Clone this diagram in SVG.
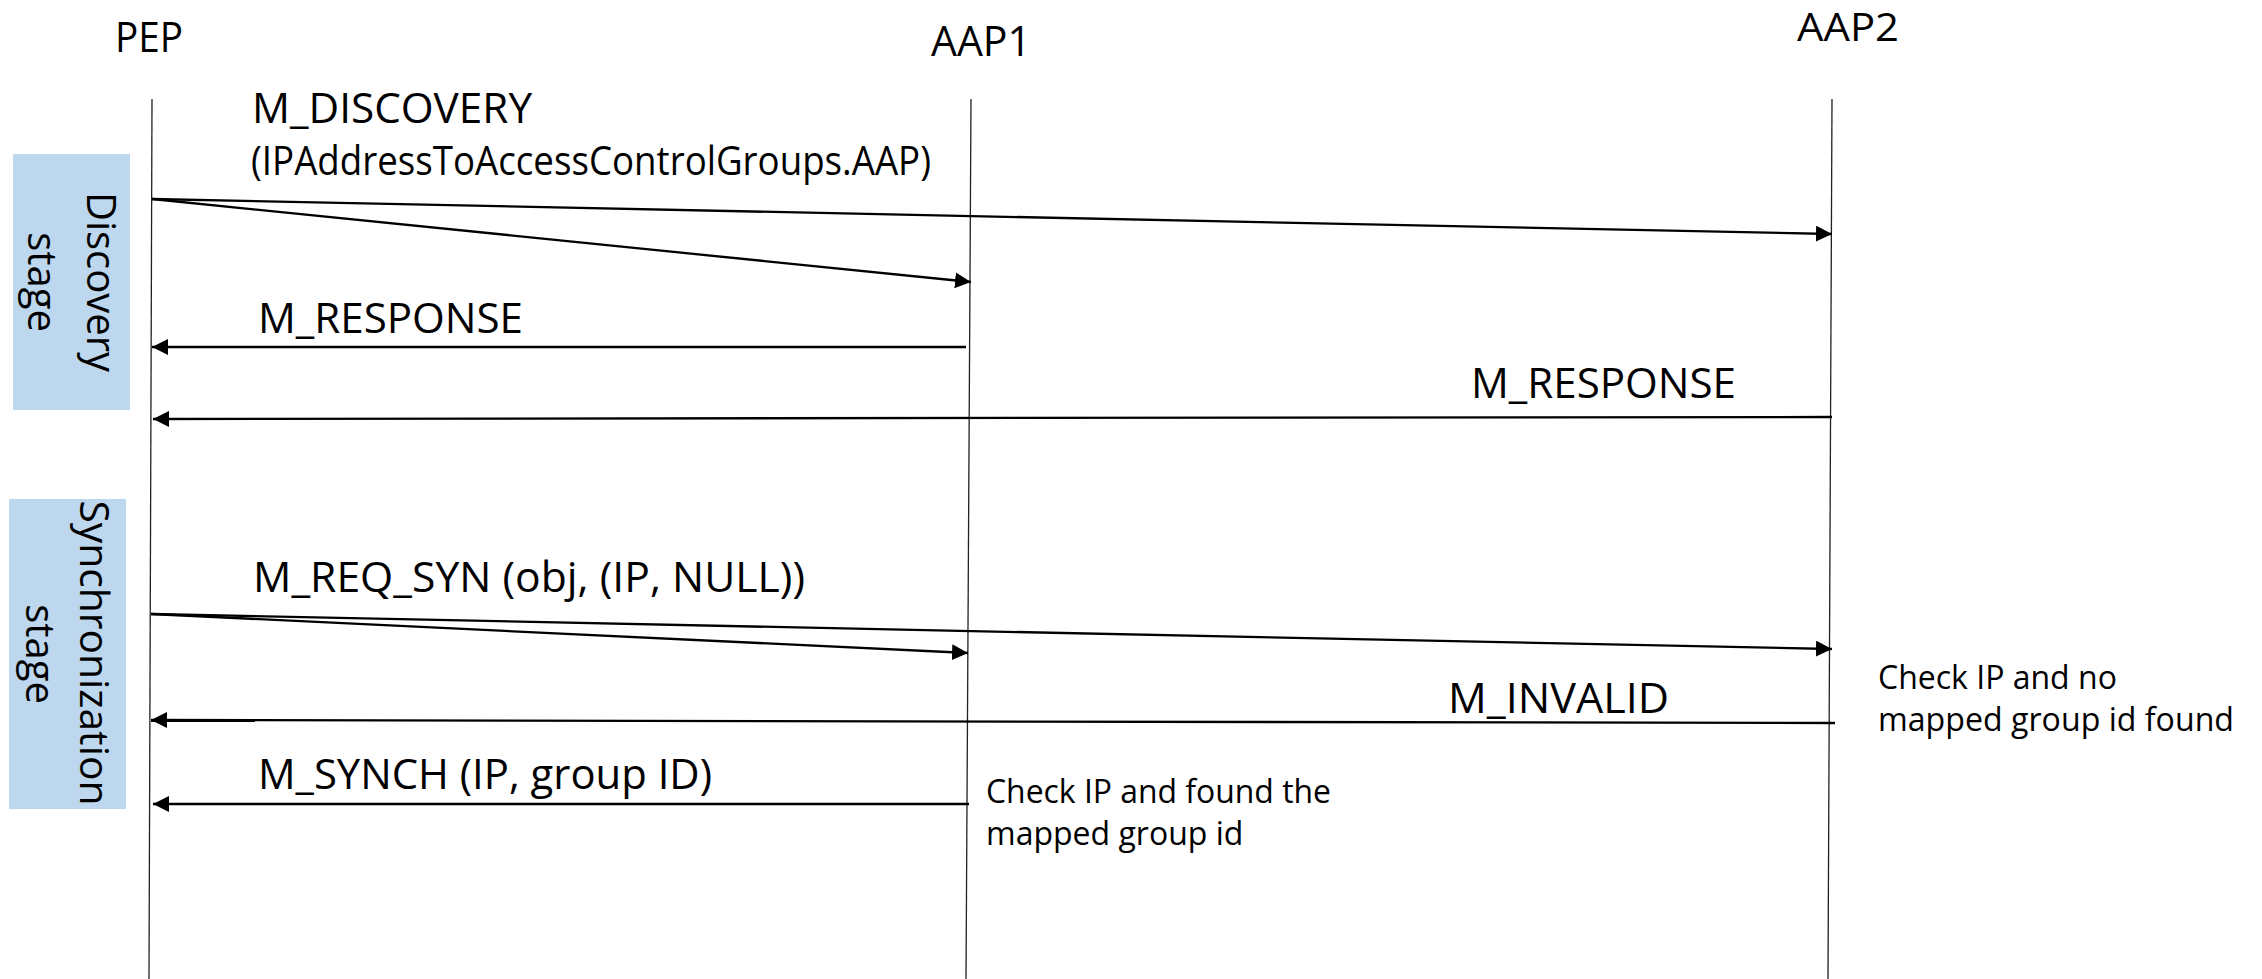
<svg xmlns="http://www.w3.org/2000/svg" width="2262" height="979" viewBox="0 0 2262 979">
<style>
  .lbl { font-family: "Open Sans", "Liberation Sans", sans-serif; font-size: 42px; fill: #000; }
  .sub { font-family: "Open Sans", "Liberation Sans", sans-serif; font-size: 40px; fill: #000; }
  .note { font-family: "Open Sans", "Liberation Sans", sans-serif; font-size: 32px; fill: #000; }
  .stage { font-family: "Open Sans", "DejaVu Sans", sans-serif; font-size: 40px; fill: #000; }
  .life { stroke: #222; stroke-width: 1.3; fill: none; }
  .msg { stroke: #000; stroke-width: 2.3; fill: none; marker-end: url(#ah); }
  .band { fill: #BDD7EE; }
</style>
<defs>
  <marker id="ah" viewBox="0 0 16 16" refX="16" refY="8" markerWidth="16" markerHeight="16" markerUnits="userSpaceOnUse" orient="auto">
    <path d="M0,0 L16,8 L0,16 z" fill="#000"/>
  </marker>
</defs>
<rect width="2262" height="979" fill="#fff"/>

<g id="stage-discovery">
  <rect class="band" x="13" y="154" width="117" height="256"/>
  <text class="stage" text-anchor="middle" transform="translate(87,282) rotate(90)">Discovery</text>
  <text class="stage" text-anchor="middle" transform="translate(28,282) rotate(90)">stage</text>
</g>
<g id="stage-sync">
  <rect class="band" x="9" y="499" width="117" height="310"/>
  <text class="stage" text-anchor="middle" textLength="305" lengthAdjust="spacingAndGlyphs" transform="translate(80,653) rotate(90)">Synchronization</text>
  <text class="stage" text-anchor="middle" transform="translate(26,654) rotate(90)">stage</text>
</g>

<g id="PEP">
  <text class="lbl" x="115" y="52" textLength="68" lengthAdjust="spacingAndGlyphs">PEP</text>
  <line class="life" x1="152" y1="99" x2="149" y2="979"/>
</g>
<g id="AAP1">
  <text class="lbl" x="931" y="56" textLength="100" lengthAdjust="spacingAndGlyphs">AAP1</text>
  <line class="life" x1="971" y1="99" x2="966" y2="979"/>
</g>
<g id="AAP2">
  <text class="lbl" x="1797" y="41" style="font-size:38px" textLength="102" lengthAdjust="spacingAndGlyphs">AAP2</text>
  <line class="life" x1="1832" y1="99" x2="1828" y2="979"/>
</g>

<g id="connectors">
  <line class="msg" x1="152" y1="199" x2="1832" y2="234"/>
  <line class="msg" x1="152" y1="199" x2="971" y2="282"/>
  <line class="msg" x1="966" y1="347" x2="152" y2="347"/>
  <line class="msg" x1="1832" y1="417" x2="153" y2="419"/>
  <line class="msg" x1="151" y1="614" x2="968" y2="653"/>
  <line class="msg" x1="151" y1="614" x2="1832" y2="649"/>
  <line class="msg" x1="1835" y1="723" x2="151" y2="720"/>
  <line class="msg" x1="969" y1="804" x2="153" y2="804"/>
</g>

<g id="labels">
  <text class="lbl" x="252" y="123" textLength="280" lengthAdjust="spacingAndGlyphs">M_DISCOVERY</text>
  <text class="sub" x="251" y="175" textLength="680" lengthAdjust="spacingAndGlyphs">(IPAddressToAccessControlGroups.AAP)</text>
  <text class="lbl" x="258" y="333" textLength="265" lengthAdjust="spacingAndGlyphs">M_RESPONSE</text>
  <text class="lbl" x="1471" y="398" textLength="265" lengthAdjust="spacingAndGlyphs">M_RESPONSE</text>
  <text class="lbl" x="253" y="592" textLength="552" lengthAdjust="spacingAndGlyphs">M_REQ_SYN (obj, (IP, NULL))</text>
  <text class="lbl" x="1448" y="713" textLength="221" lengthAdjust="spacingAndGlyphs">M_INVALID</text>
  <text class="lbl" x="258" y="789" textLength="454" lengthAdjust="spacingAndGlyphs">M_SYNCH (IP, group ID)</text>
</g>

<g id="note-aap1">
  <text class="note" x="986" y="803" textLength="345" lengthAdjust="spacingAndGlyphs">Check IP and found the</text>
  <text class="note" x="986" y="845">mapped group id</text>
</g>
<g id="note-aap2">
  <text class="note" x="1878" y="689">Check IP and no</text>
  <text class="note" x="1878" y="731" textLength="356" lengthAdjust="spacingAndGlyphs">mapped group id found</text>
</g>
</svg>
